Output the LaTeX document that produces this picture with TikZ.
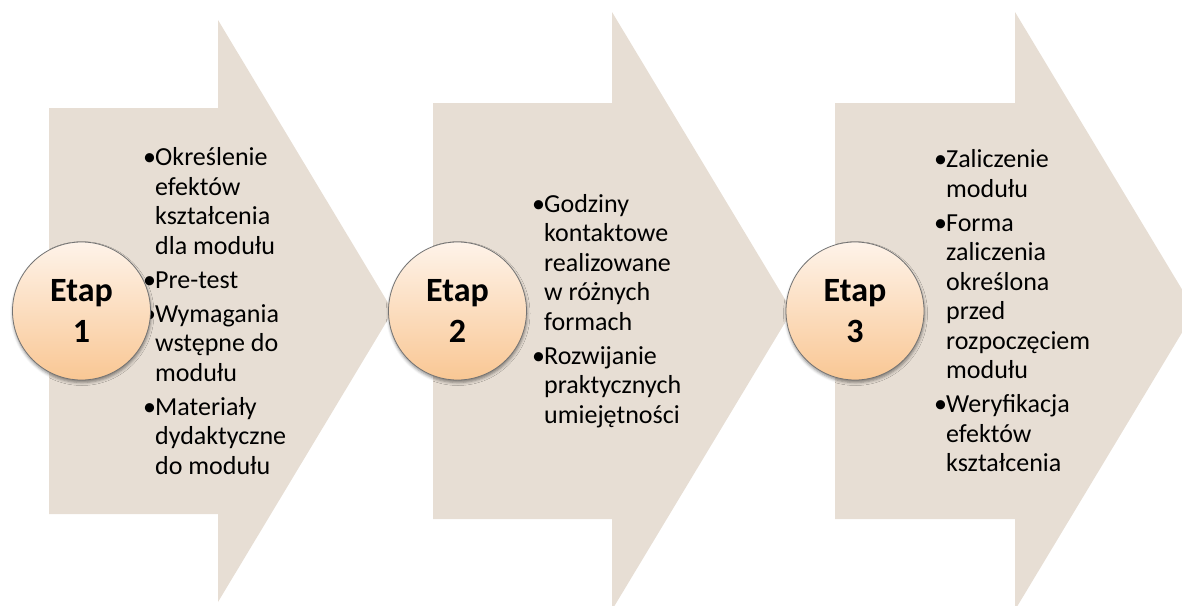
\documentclass[tikz,border=0pt]{standalone}
\usepackage{fontspec}
\setmainfont{Carlito}
\usetikzlibrary{shadows.blur}
\definecolor{arrowfill}{RGB}{231,222,212}
\definecolor{circtop}{RGB}{254,243,233}
\definecolor{circbot}{RGB}{249,199,148}
\definecolor{circline}{RGB}{115,115,115}
\newcommand\bul{\makebox[12pt][l]{•}}
\newcommand\ind{\hspace*{12pt}}
\begin{document}
\begin{tikzpicture}[x=1pt,y=-1pt,
  stagearrow/.style={fill=arrowfill, draw=none},
  stagecircle/.style={circle, minimum size=138pt, inner sep=0pt, draw=circline,
    line width=0.8pt, top color=circtop, bottom color=circbot,
    blur shadow={shadow xshift=0.5pt, shadow yshift=-2.5pt, shadow blur radius=3pt, shadow opacity=45},
    font=\fontsize{34}{41.5}\selectfont\bfseries, align=center},
  stagetext/.style={anchor=west, inner sep=0pt, align=left,
    font=\fontsize{26}{29.5}\selectfont}]
\useasboundingbox (0,0) rectangle (1182,605);
% arrows
\fill[stagearrow] (49,108) -- (218,108) -- (218,20) -- (393,311) -- (218,602) -- (218,514) -- (49,514) -- cycle;
\fill[stagearrow] (433,103) -- (612,103) -- (612,12) -- (792,311) -- (612,610) -- (612,519) -- (433,519) -- cycle;
\fill[stagearrow] (835,103) -- (1015,103) -- (1015,12) -- (1195,311) -- (1015,610) -- (1015,519) -- (835,519) -- cycle;
% texts
\node[stagetext] (t1) at (143,311) {\bul Określenie\\\ind efektów\\\ind kształcenia\\\ind dla modułu\\[4.5pt]\bul Pre-test\\[4.5pt]\bul Wymagania\\\ind wstępne do\\\ind modułu\\[4.5pt]\bul Materiały\\\ind dydaktyczne\\\ind do modułu};
\node[stagetext] (t2) at (532,311) {\bul Godziny\\\ind kontaktowe\\\ind realizowane\\\ind w różnych\\\ind formach\\[4.5pt]\bul Rozwijanie\\\ind praktycznych\\\ind umiejętności};
\node[stagetext] (t3) at (934,311) {\bul Zaliczenie\\\ind modułu\\[4.5pt]\bul Forma\\\ind zaliczenia\\\ind określona\\\ind przed\\\ind rozpoczęciem\\\ind modułu\\[4.5pt]\bul Weryfikacja\\\ind efektów\\\ind kształcenia};
% circles
\node[stagecircle] (c1) at (81.5,311) {Etap\\1};
\node[stagecircle] (c2) at (457.5,311) {Etap\\2};
\node[stagecircle] (c3) at (855,311) {Etap\\3};
\end{tikzpicture}
\end{document}
